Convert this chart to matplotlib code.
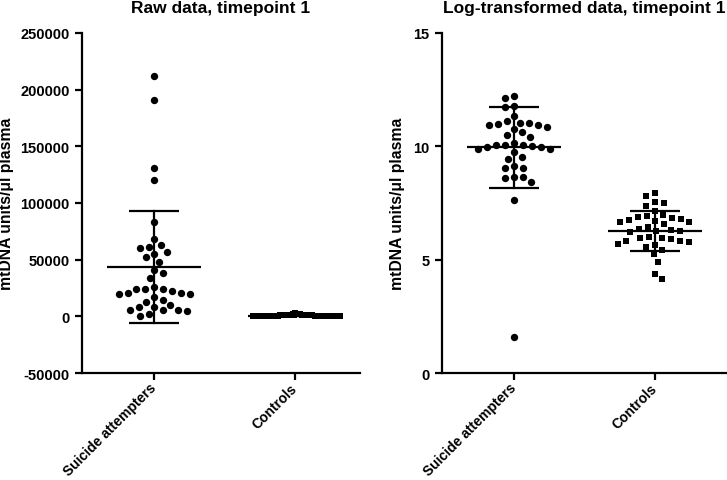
import numpy as np
import matplotlib
matplotlib.use("Agg")
import matplotlib.pyplot as plt

plt.rcParams['font.family'] = ['Liberation Sans', 'DejaVu Sans']
plt.rcParams['font.weight'] = 'bold'
plt.rcParams['axes.unicode_minus'] = False

# ---------------- data ----------------
categories = ["Suicide attempters", "Controls"]

attempters_raw = [212000, 191000, 131000, 120000, 83000,
                  68000, 61500, 54700, 60000, 57000, 63000, 48000, 52000,
                  38000, 40500, 33500, 22300, 21000, 23800, 19400, 23800,
                  23800, 26200, 17000, 20000, 21000, 14000, 13000, 9700,
                  8500, 5500, 4700, 5, 1800, 5500, 5500, 8500]

controls_log = [7.94, 7.79, 7.53, 7.49, 7.38, 7.13,
                6.94, 6.82, 6.75, 6.67, 6.57, 6.67, 6.69, 6.79, 6.87, 6.98,
                6.32, 6.25, 6.35, 6.25, 6.43, 6.20,
                5.94, 5.91, 5.79, 5.66, 5.99, 5.84, 5.69, 5.84, 5.94, 5.55,
                5.25, 5.44, 4.88, 4.37, 4.15]

controls_raw = [2806, 2416, 1863, 1790, 1603, 1249,
                1033, 916, 854, 788, 713, 788, 804, 889, 963, 1075,
                556, 518, 573, 518, 620, 493,
                380, 369, 327, 287, 399, 344, 296, 344, 380, 257,
                191, 230, 132, 79, 63]

attempters_log = [12.23, 12.13, 11.76, 11.72, 11.32, 11.10, 11.03, 11.01,
                  10.98, 10.96, 10.92, 10.87, 10.76, 10.62, 10.51, 10.43,
                  10.15, 10.07, 10.07, 10.03, 9.96, 9.96, 9.88, 9.88, 9.73,
                  10.07, 9.51, 9.44, 9.15, 9.04, 9.04, 8.63, 8.63, 8.59,
                  8.41, 7.65, 1.60]

# mean and SD
raw_mean = [43500, 700]
raw_sd = [49200, 600]
log_mean = [9.95, 6.28]
log_sd = [1.77, 0.88]

raw_yticks = [-50000, 0, 50000, 100000, 150000, 200000, 250000]
log_yticks = [0, 5, 10, 15]

# ---------------- layout ----------------
W, H = 727, 481
fig = plt.figure(figsize=(W / 100, H / 100), dpi=100)

axL = fig.add_axes([82 / W, 1 - 374 / H, 278 / W, 340 / H])
axR = fig.add_axes([442 / W, 1 - 374 / H, 285 / W, 340 / H])

xlimL = (-0.511, 1.461)
xlimR = (-0.511, 1.511)


def swarm(values, ypx_per_unit, xpx_per_unit, D=9.0):
    values = np.asarray(values, float)
    order = np.argsort(-values)
    placed = []
    offs = np.zeros(len(values))
    for n, i in enumerate(order):
        y = values[i] * ypx_per_unit
        best = None
        signs = (1, -1) if n % 2 == 0 else (-1, 1)
        for k in range(0, 4000):
            cands = [0.0] if k == 0 else [s * k * 0.25 for s in signs]
            for x in cands:
                ok = all((x - px) ** 2 + (y - py) ** 2 >= D * D for px, py in placed)
                if ok:
                    best = x
                    break
            if best is not None:
                break
        placed.append((best, y))
        offs[i] = best / xpx_per_unit
    return offs


xppu_L = 278 / (xlimL[1] - xlimL[0])
xppu_R = 285 / (xlimR[1] - xlimR[0])

offL_att = swarm(attempters_raw, 340 / 300000, xppu_L)
offR_att = swarm(attempters_log, 340 / 15, xppu_R)
offR_con = swarm(controls_log, 340 / 15, xppu_R)
offL_con = swarm(controls_raw, 340 / 300000, xppu_L, D=2.4)

ms_c = 5.3
ms_s = 5.0
lw = 1.6


def errbars(ax, pos, mean, sd, xppu):
    half_mean = 47 / xppu
    half_cap = 25 / xppu
    for p, m, s in zip(pos, mean, sd):
        ax.plot([p - half_mean, p + half_mean], [m, m], color='black', lw=lw, zorder=4,
                solid_capstyle='butt')
        ax.plot([p - half_cap, p + half_cap], [m + s, m + s], color='black', lw=lw, zorder=4,
                solid_capstyle='butt')
        ax.plot([p - half_cap, p + half_cap], [m - s, m - s], color='black', lw=lw, zorder=4,
                solid_capstyle='butt')
        ax.plot([p, p], [m - s, m + s], color='black', lw=lw, zorder=4)


pos = [0, 1]

# Left panel
axL.plot(pos[0] + offL_att, attempters_raw, 'o', color='black', ms=ms_c, mew=0, zorder=3)
axL.plot(pos[1] + offL_con, controls_raw, 's', color='black', ms=ms_s, mew=0, zorder=3)
errbars(axL, pos, raw_mean, raw_sd, xppu_L)
axL.set_ylim(-50000, 250000)
axL.set_xlim(*xlimL)
axL.set_yticks(raw_yticks)
axL.set_yticklabels([str(v) for v in raw_yticks])
axL.set_title("Raw data, timepoint 1", fontsize=12.5, fontweight='bold', pad=15)

# Right panel
axR.plot(pos[0] + offR_att, attempters_log, 'o', color='black', ms=ms_c, mew=0, zorder=3)
axR.plot(pos[1] + offR_con, controls_log, 's', color='black', ms=ms_s, mew=0, zorder=3)
errbars(axR, pos, log_mean, log_sd, xppu_R)
axR.set_ylim(0, 15)
axR.set_xlim(*xlimR)
axR.set_yticks(log_yticks)
axR.set_yticklabels([str(v) for v in log_yticks])
axR.set_title("Log-transformed data, timepoint 1", fontsize=12.5, fontweight='bold', pad=15)

for ax, lx, ly in ((axL, -0.245, 0.5), (axR, -0.13, 0.5)):
    for sp in ('top', 'right'):
        ax.spines[sp].set_visible(False)
    for sp in ('left', 'bottom'):
        ax.spines[sp].set_linewidth(lw)
    ax.tick_params(axis='both', direction='out', length=5, width=lw, labelsize=10.5, pad=4)
    ax.set_xticks(pos)
    ax.set_xticklabels(categories, rotation=45, ha='right', va='center',
                       rotation_mode='anchor', fontsize=10, fontweight='bold')
    for t in ax.get_yticklabels():
        t.set_fontweight('bold')
    ax.set_ylabel("mtDNA units/\u03bcl plasma", fontsize=11.3, fontweight='bold')
    ax.yaxis.set_label_coords(lx, ly)
    for sp in ax.spines.values():
        sp.set_clip_on(False)

fig.savefig("out.png", dpi=100)
